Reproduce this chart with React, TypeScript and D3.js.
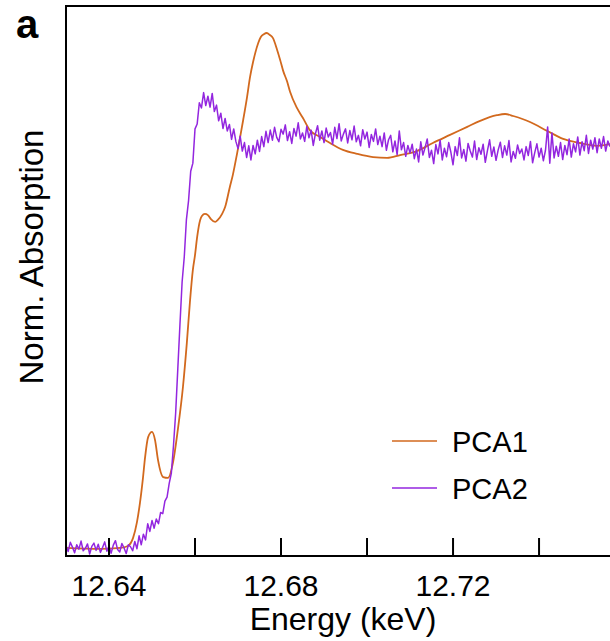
import React from "react";
import * as d3 from "d3";

// Energy axis ticks (keV)
const tickValues = [12.64, 12.66, 12.68, 12.70, 12.72, 12.74];
const tickLabels = ["12.64", "", "12.68", "", "12.72", ""];
const seriesNames = ["PCA1", "PCA2"];

// PCA1: smooth component (energy keV, normalized absorption)
const pca1Energy = [12.63, 12.6379, 12.6426, 12.6444, 12.6456, 12.6465, 12.6472, 12.6479, 12.6484, 12.6491, 12.65, 12.6507, 12.6514, 12.6526, 12.6537, 12.6549, 12.656, 12.6572, 12.6581, 12.6588, 12.6595, 12.66, 12.6605, 12.6612, 12.6616, 12.6623, 12.663, 12.6637, 12.6647, 12.6653, 12.6663, 12.667, 12.6681, 12.6688, 12.6698, 12.6705, 12.6712, 12.6721, 12.6728, 12.6735, 12.674, 12.6747, 12.6753, 12.676, 12.6767, 12.6774, 12.6781, 12.6791, 12.6798, 12.6805, 12.6814, 12.6821, 12.6837, 12.6851, 12.6867, 12.6891, 12.6914, 12.6944, 12.6977, 12.7014, 12.7047, 12.7077, 12.7116, 12.7153, 12.7193, 12.7233, 12.7263, 12.7302, 12.7321, 12.734, 12.7363, 12.7379, 12.7419, 12.7456, 12.7495, 12.7535, 12.7565];
const pca1Abs = [0, -0.0025, 0, 0.005, 0.025, 0.064, 0.112, 0.174, 0.226, 0.275, 0.288, 0.268, 0.218, 0.176, 0.174, 0.213, 0.293, 0.4, 0.509, 0.608, 0.69, 0.727, 0.772, 0.814, 0.824, 0.829, 0.826, 0.816, 0.809, 0.814, 0.829, 0.846, 0.896, 0.926, 0.98, 1.02, 1.062, 1.119, 1.169, 1.206, 1.228, 1.253, 1.268, 1.275, 1.278, 1.273, 1.266, 1.236, 1.211, 1.184, 1.158, 1.132, 1.092, 1.067, 1.037, 1.02, 1.005, 0.988, 0.978, 0.97, 0.968, 0.975, 0.985, 1.005, 1.025, 1.045, 1.06, 1.074, 1.077, 1.072, 1.064, 1.057, 1.035, 1.015, 1.005, 0.998, 1.002];

// PCA2: noisy component, sampled every 0.0005 keV from 12.63 keV
const pca2Start = 12.63;
const pca2Step = 0.0005;
const pca2Abs = [
  0.006, -0.009, 0.014, 0.002, -0.012, 0.008, -0.003, 0.017, -0.007, -0.001,
  0.010, -0.015, 0.004, 0.012, -0.006, 0.009, -0.011, 0.001, 0.015, -0.008,
  0.005, -0.013, 0.007, 0.018, -0.004, -0.010, 0.011, 0.000, -0.014, 0.008,
  0.003, -0.007, 0.016, -0.002, 0.030, 0.008, 0.034, 0.020, 0.060, 0.041,
  0.068, 0.049, 0.072, 0.060, 0.088, 0.085, 0.116, 0.126, 0.160, 0.186,
  0.255, 0.335, 0.445, 0.555, 0.660, 0.722, 0.815, 0.862, 0.935, 0.955,
  1.040, 1.052, 1.105, 1.092, 1.130, 1.098, 1.121, 1.094, 1.128, 1.083,
  1.099, 1.060, 1.079, 1.041, 1.066, 1.035, 1.051, 1.014, 1.040, 1.009,
  0.991, 1.022, 0.985, 1.006, 0.969, 0.998, 0.963, 0.999, 0.978, 1.012,
  0.984, 1.021, 0.996, 1.034, 1.006, 1.037, 1.012, 1.044, 1.019, 1.008,
  1.039, 1.027, 1.050, 1.011, 1.033, 1.004, 1.041, 1.022, 1.055, 1.015,
  1.030, 1.009, 1.046, 1.018, 1.037, 0.999, 1.028, 1.048, 1.012, 1.035,
  1.006, 1.042, 1.020, 1.031, 1.002, 1.044, 1.016, 1.053, 1.010, 1.027,
  1.040, 1.005, 1.036, 1.013, 1.047, 1.008, 1.024, 0.998, 1.038, 1.015,
  1.032, 0.994, 1.026, 1.009, 1.040, 1.001, 1.022, 0.996, 1.030, 0.987,
  1.013, 1.024, 0.983, 1.010, 0.976, 1.035, 0.988, 1.006, 0.972, 0.999,
  0.980, 1.002, 0.966, 0.990, 0.958, 1.008, 0.975, 0.994, 1.015, 0.969,
  0.987, 0.954, 1.001, 0.978, 1.012, 0.963, 0.992, 0.971, 1.006, 0.982,
  0.951, 0.996, 0.974, 1.018, 0.968, 0.989, 0.960, 1.004, 0.985, 0.970,
  1.010, 0.964, 0.993, 0.977, 1.002, 0.957, 0.986, 1.013, 0.972, 0.995,
  0.962, 0.988, 1.007, 0.969, 0.998, 0.975, 1.011, 0.958, 0.984, 0.967,
  1.000, 0.979, 0.990, 0.963, 0.996, 0.974, 1.009, 0.956, 0.981, 1.003,
  0.970, 0.992, 0.961, 0.987, 1.045, 0.955, 1.030, 0.968, 0.997, 0.972,
  1.006, 0.964, 0.999, 0.976, 1.015, 0.970, 1.003, 0.983, 1.020, 0.975,
  1.008, 0.986, 1.024, 0.979, 1.012, 0.990, 1.018, 0.981, 1.015, 0.992,
  1.021, 0.985, 1.010, 0.996,
];

const W = 610;
const H = 641;
const left = 66;
const top = 6;
const right = 610;
const bottom = 556;

const ORANGE = "#d2691e";
const PURPLE = "#9326df";
const FONT = "'Liberation Sans', Arial, Helvetica, sans-serif";

export default function App() {
  const x = d3.scaleLinear().domain([12.63, 12.7565]).range([left, right]);
  const y = d3.scaleLinear().domain([-0.02, 1.345]).range([bottom, top]);

  const pca1 = pca1Energy.map((e, i) => [e, pca1Abs[i]] as [number, number]);
  const pca2 = pca2Abs.map((a, i) => [pca2Start + i * pca2Step, a] as [number, number]);

  const smooth = d3
    .line<[number, number]>()
    .x((d) => x(d[0]))
    .y((d) => y(d[1]))
    .curve(d3.curveMonotoneX);
  const raw = d3
    .line<[number, number]>()
    .x((d) => x(d[0]))
    .y((d) => y(d[1]));

  const legendY = [441, 488];
  const colors = [ORANGE, PURPLE];

  return (
    <svg
      width={W}
      height={H}
      style={{ position: "absolute", left: 0, top: 0, background: "#fff" }}
      fontFamily={FONT}
    >
      <defs>
        <clipPath id="plotclip">
          <rect x={left} y={top} width={right - left} height={bottom - top} />
        </clipPath>
      </defs>
      <rect x={0} y={0} width={W} height={H} fill="#fff" />
      <g clipPath="url(#plotclip)">
        <path d={smooth(pca1) || ""} fill="none" stroke={ORANGE} strokeWidth={1.8} strokeLinejoin="round" />
        <path d={raw(pca2) || ""} fill="none" stroke={PURPLE} strokeWidth={1.5} strokeLinejoin="round" />
      </g>
      {/* frame */}
      <line x1={left} y1={top} x2={right} y2={top} stroke="#000" strokeWidth={2} />
      <line x1={left} y1={top - 1} x2={left} y2={bottom + 1} stroke="#000" strokeWidth={2} />
      <line x1={left - 1} y1={bottom} x2={right} y2={bottom} stroke="#000" strokeWidth={2} />
      {/* ticks */}
      {tickValues.map((t, i) => (
        <g key={t}>
          <line x1={x(t)} x2={x(t)} y1={bottom} y2={bottom - 18} stroke="#000" strokeWidth={2} />
          {tickLabels[i] && (
            <text x={x(t)} y={596} textAnchor="middle" fontSize={30} fill="#000">
              {tickLabels[i]}
            </text>
          )}
        </g>
      ))}
      <text x={343} y={630} textAnchor="middle" fontSize={32} fill="#000">
        Energy (keV)
      </text>
      <text
        transform={`translate(43, 257) rotate(-90)`}
        textAnchor="middle"
        fontSize={33}
        fill="#000"
      >
        Norm. Absorption
      </text>
      <text x={16} y={38} fontSize={40} fontWeight="bold" fill="#000">
        a
      </text>
      {/* legend */}
      {seriesNames.map((n, i) => (
        <g key={n}>
          <line x1={392} x2={437} y1={legendY[i]} y2={legendY[i]} stroke={colors[i]} strokeWidth={1.6} />
          <text x={452} y={legendY[i] + 11} fontSize={29} fill="#000">
            {n}
          </text>
        </g>
      ))}
    </svg>
  );
}
